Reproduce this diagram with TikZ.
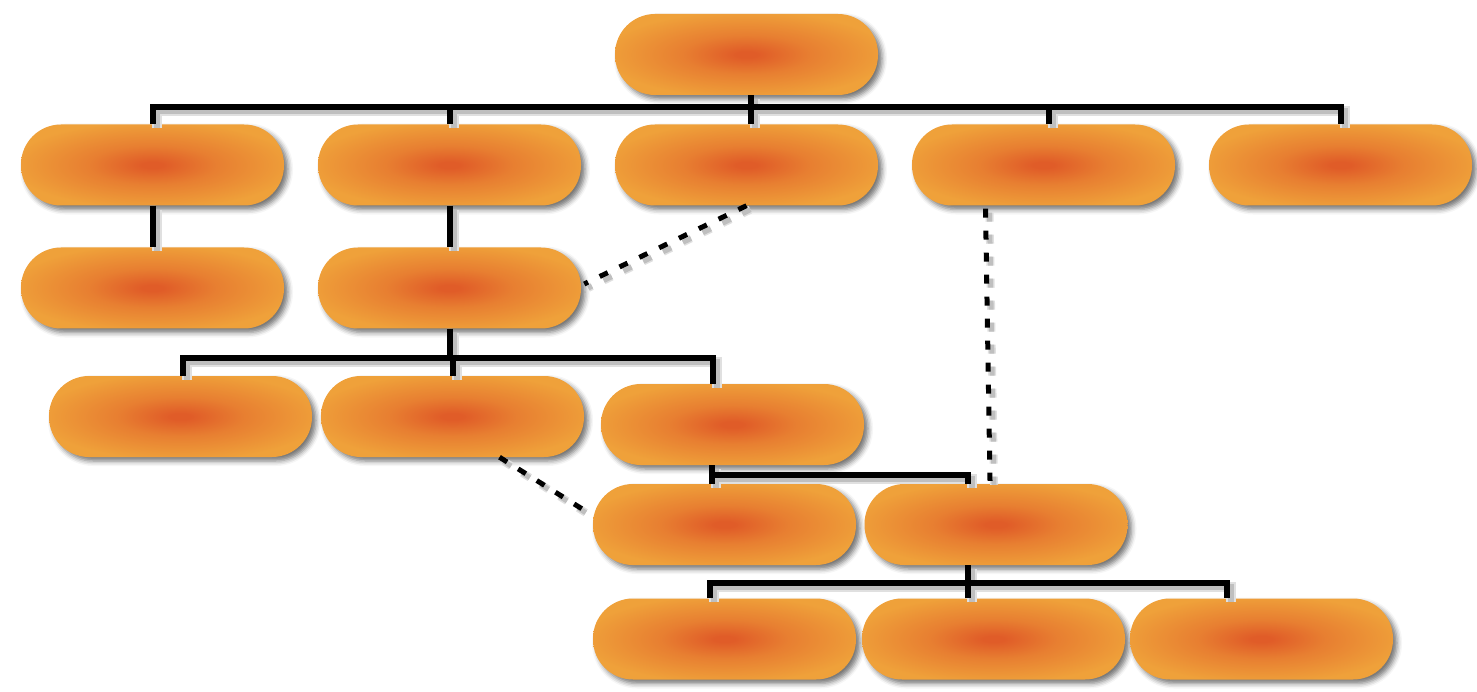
\documentclass[tikz,border=0pt]{standalone}
\usetikzlibrary{shadows.blur}
\definecolor{pillin}{RGB}{224,92,40}
\definecolor{pillout}{RGB}{239,161,58}
\pgfdeclareradialshading{pill}{\pgfpoint{0bp}{0bp}}{color(0bp)=(pillin); color(2bp)=(pillin); color(12bp)=(pillin!50!pillout); color(27bp)=(pillout); color(50bp)=(pillout)}
\tikzset{
  pillnode/.style={rectangle, rounded corners=40pt, minimum width=263pt, minimum height=81pt, inner sep=0pt,
    shading=pill, blur shadow={shadow xshift=4pt, shadow yshift=-4pt, shadow blur radius=5pt, shadow opacity=55}},
  conn/.style={draw=black, line width=6pt},
  dconn/.style={draw=black, line width=5pt, dash pattern=on 9pt off 13pt},
}
\newcommand\drawconnectors{%
  \draw[conn] (rs) -- (rs |- bus1);
  \draw[conn] (a.north) |- (e.north |- bus1) -- (e.north);
  \draw[conn] (b.north) -- (b.north |- bus1);
  \draw[conn] (cs) -- (cs |- bus1);
  \draw[conn] (ds) -- (ds |- bus1);
  \draw[conn] (a.south) -- (a1.north);
  \draw[conn] (b.south) -- (b1.north);
  \draw[conn] (b1.south) -- (b1.south |- bus2);
  \draw[conn] (b1an) |- (b1cn |- bus2) -- (b1cn);
  \draw[conn] (b1b.north) -- (b1b.north |- bus2);
  \draw[conn] (fn |- b1c.south) -- (fn);
  \draw[conn] (fn |- bus3) -| (gn);
  \draw[conn] (gs) -- (gs |- bus4);
  \draw[conn] (hn) |- (jn |- bus4) -- (jn);
  \draw[conn] (in) -- (in |- bus4);
  \draw[dconn] (c.south) -- (b1e);
  \draw[dconn] (b1bs) -- (fw);
  \draw[dconn] (dd) -- (gd);
}
\begin{document}
\begin{tikzpicture}[x=1pt,y=-1pt]
\useasboundingbox (0,0) rectangle (1477,692);
\node[pillnode] (root) at (746.5,54.5) {};
\node[pillnode] (a) at (152.5,165) {};
\node[pillnode] (b) at (449.5,165) {};
\node[pillnode] (c) at (746.5,165) {};
\node[pillnode] (d) at (1043.5,165) {};
\node[pillnode] (e) at (1340.5,165) {};
\node[pillnode] (a1) at (152.5,288) {};
\node[pillnode] (b1) at (449.5,288) {};
\node[pillnode] (b1a) at (180.5,416.5) {};
\node[pillnode] (b1b) at (452.5,416.5) {};
\node[pillnode] (b1c) at (732.5,424.5) {};
\node[pillnode] (f) at (724.5,524.5) {};
\node[pillnode] (g) at (996,524.5) {};
\node[pillnode] (h) at (724.5,639) {};
\node[pillnode] (i) at (993.5,639) {};
\node[pillnode] (j) at (1261.5,639) {};
\coordinate (bus1) at (0,107);
\coordinate (bus2) at (0,358);
\coordinate (bus3) at (0,475);
\coordinate (bus4) at (0,583);
\coordinate (rs) at ([xshift=4.5pt]root.south);
\coordinate (cs) at ([xshift=4.5pt]c.north);
\coordinate (ds) at ([xshift=5.5pt]d.north);
\coordinate (b1an) at ([xshift=2.5pt]b1a.north);
\coordinate (b1cn) at ([xshift=-19.5pt]b1c.north);
\coordinate (fn) at ([xshift=-12.5pt]f.north);
\coordinate (gn) at ([xshift=-28pt]g.north);
\coordinate (gs) at ([xshift=-28pt]g.south);
\coordinate (hn) at ([xshift=-14.5pt]h.north);
\coordinate (in) at ([xshift=-25.5pt]i.north);
\coordinate (jn) at ([xshift=-34.5pt]j.north);
\coordinate (b1e) at ([xshift=3pt,yshift=4pt]b1.east);
\coordinate (b1bs) at ([xshift=47pt]b1b.south);
\coordinate (fw) at ([xshift=-5pt,yshift=12pt]f.west);
\coordinate (dd) at ([xshift=-58pt,yshift=-3pt]d.south);
\coordinate (gd) at ([xshift=-6pt,yshift=3pt]g.north);
\begin{scope}[transform canvas={shift={(4pt,-4pt)}}]
\tikzset{conn/.style={draw=black!12, line width=10pt}, dconn/.style={draw=black!12, line width=8pt, dash pattern=on 9pt off 13pt}}
\drawconnectors
\end{scope}
\begin{scope}[transform canvas={shift={(4pt,-4pt)}}]
\tikzset{conn/.style={draw=black!25, line width=6pt}, dconn/.style={draw=black!25, line width=5pt, dash pattern=on 9pt off 13pt}}
\drawconnectors
\end{scope}
\drawconnectors
\end{tikzpicture}
\end{document}
